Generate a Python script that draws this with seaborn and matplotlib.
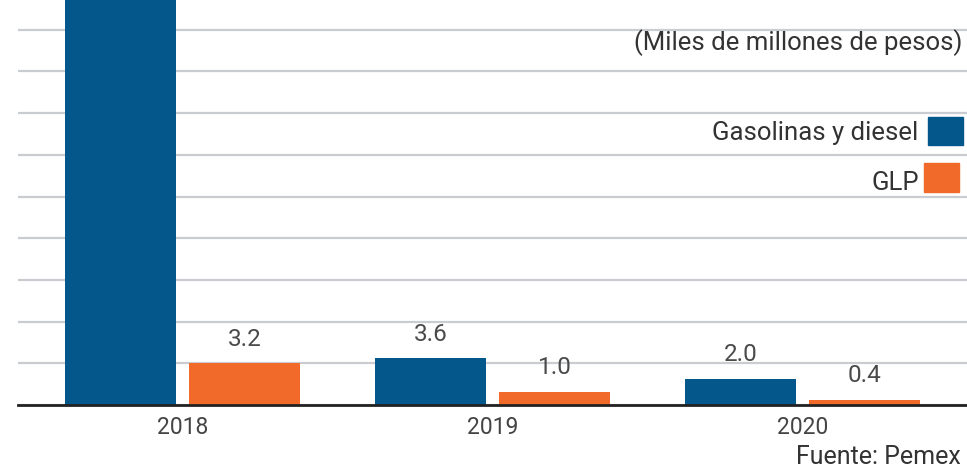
import pandas as pd
import matplotlib
matplotlib.use("Agg")
import matplotlib.pyplot as plt
import matplotlib.ticker as mtick
from matplotlib.patches import Rectangle
import seaborn as sns

years = ["2018", "2019", "2020"]
gasolinas = [40.0, 3.6, 2.0]   # 2018 bar runs off the top of the picture
glp = [3.2, 1.0, 0.4]
series = ["Gasolinas y diesel", "GLP"]
colors = ["#04578a", "#f26a2a"]

df = pd.DataFrame({
    "year": years * 2,
    "value": gasolinas + glp,
    "serie": [series[0]] * 3 + [series[1]] * 3,
})

sns.set_style("white")
plt.rcParams["font.family"] = ["Roboto", "DejaVu Sans"]

fig = plt.figure(figsize=(9.67, 4.72), dpi=100)
ax = fig.add_axes([18 / 967, (472 - 405) / 472, 1 - 18 / 967, 405 / 472])

sns.barplot(data=df, x="year", y="value", hue="serie", palette=colors,
            width=0.8, gap=0.1, saturation=1, legend=False, ax=ax,
            linewidth=0, zorder=3)

ax.set_xlim(-0.53, 2.53)
ax.set_ylim(0, 31.08)
ax.yaxis.set_major_locator(mtick.MultipleLocator(3.2))
ax.grid(axis="y", color="#c9cdd2", linewidth=1.6, zorder=0)
ax.set_axisbelow(True)
ax.set_yticklabels([])
ax.tick_params(axis="both", length=0)
ax.tick_params(axis="x", labelsize=16.5, labelcolor="#444444", pad=8)
ax.set(xlabel="", ylabel="")
for s in ["left", "right", "top"]:
    ax.spines[s].set_visible(False)
ax.spines["bottom"].set_color("#222222")
ax.spines["bottom"].set_linewidth(2)
ax.spines["bottom"].set_zorder(4)

for cont in ax.containers:
    ax.bar_label(cont, fmt="%.1f", padding=9, fontsize=17.5,
                 color="#4a4a4a")

fig.text(0.995, 1 - 43 / 472, "(Miles de millones de pesos)", ha="right",
         va="center", fontsize=18.5, color="#333333")

fig.text(918 / 967, (472 - 140) / 472, series[0], ha="right", va="baseline",
         fontsize=18.5, color="#333333")
fig.text(919 / 967, (472 - 190) / 472, series[1], ha="right", va="baseline",
         fontsize=18.5, color="#333333")
fig.patches.append(Rectangle((928 / 967, (472 - 145) / 472), 35 / 967, 28 / 472,
                             transform=fig.transFigure, color=colors[0]))
fig.patches.append(Rectangle((924 / 967, (472 - 192) / 472), 35 / 967, 29 / 472,
                             transform=fig.transFigure, color=colors[1]))

fig.text(0.994, 3 / 472, "Fuente: Pemex", ha="right", va="bottom",
         fontsize=18, color="#333333")

fig.savefig("out.png", dpi=100)
